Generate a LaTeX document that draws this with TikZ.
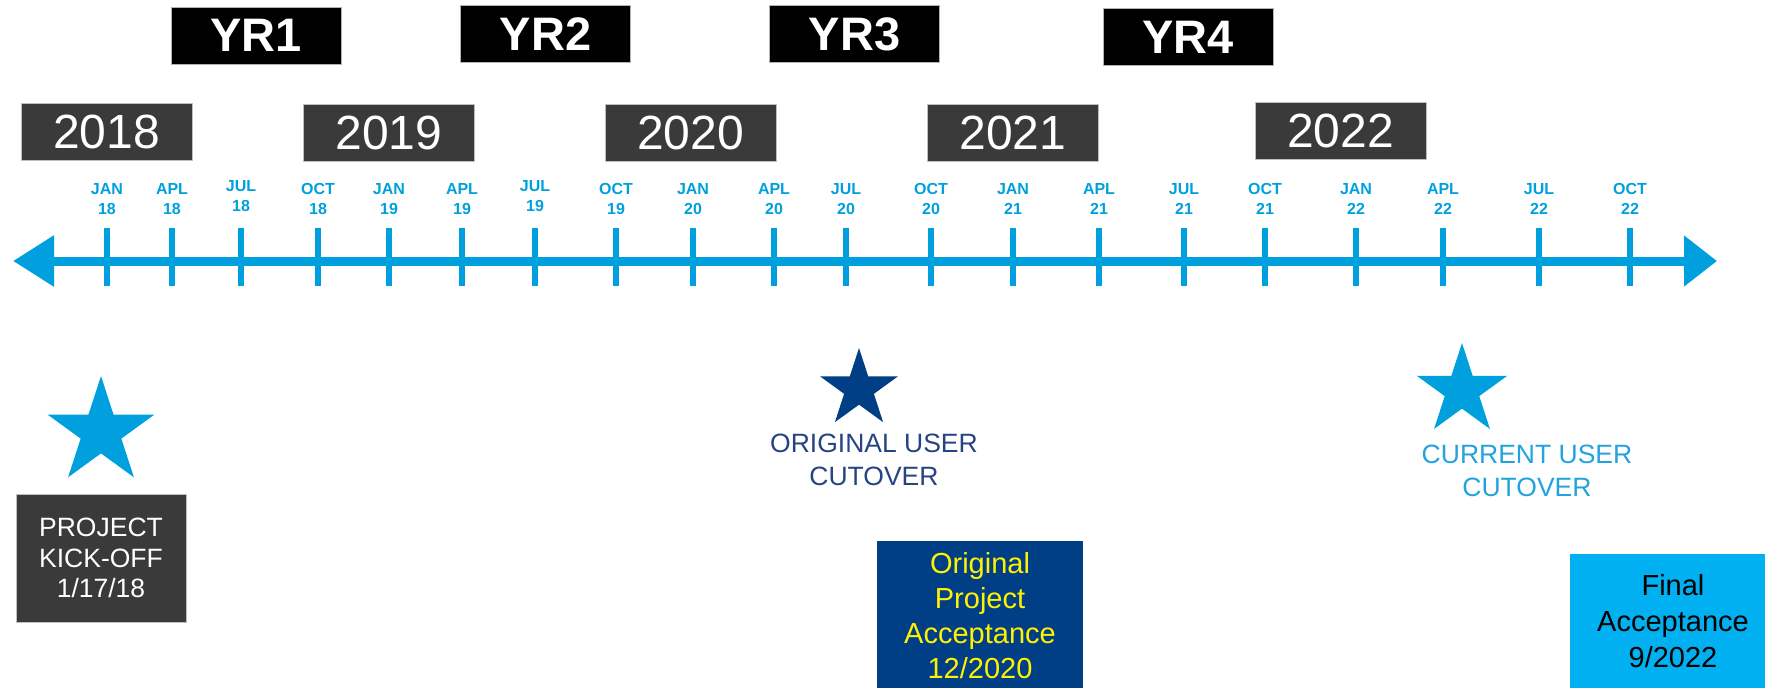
\documentclass[tikz,border=0pt]{standalone}
\usepackage{fontspec}
\setmainfont{Liberation Sans}
\usetikzlibrary{shapes.geometric,arrows.meta}

\definecolor{lineblue}{RGB}{0,160,222}
\definecolor{yeargray}{RGB}{58,58,58}
\definecolor{navy}{RGB}{0,62,134}
\definecolor{navytext}{RGB}{38,68,132}
\definecolor{curtext}{RGB}{35,163,222}
\definecolor{finalblue}{RGB}{0,176,240}

\tikzset{
  yearbox/.style={fill=yeargray, draw=gray!50, line width=1pt, text=white,
    minimum width=171pt, minimum height=57pt, inner sep=0pt,
    font=\fontsize{48}{48}\selectfont},
  yrbox/.style={fill=black, draw=gray!60, line width=1pt, text=white,
    minimum width=170pt, minimum height=57pt, inner sep=0pt,
    font=\bfseries\fontsize{47}{47}\selectfont},
  monthlbl/.style={text=lineblue, align=center, inner sep=0pt,
    font=\bfseries\fontsize{16}{20}\selectfont},
  tickline/.style={draw=lineblue, line width=5.5pt},
  axisline/.style={draw=lineblue, line width=9pt,
    {Triangle[length=41pt,width=49pt]}-{Triangle[length=33pt,width=49pt]}},
  milestar/.style={star, star points=5, star point ratio=2.618, inner sep=0pt},
  cutnote/.style={align=center, inner sep=0pt, font=\fontsize{26.5}{33}\selectfont}
}

\begin{document}
\begin{tikzpicture}[x=1pt,y=-1pt]
    \useasboundingbox (0,0) rectangle (1765,688);
    \clip (0,0) rectangle (1765,688);

    % project years
    \node[yrbox] (yr1) at (256,35.5) {YR1};
    \node[yrbox] (yr2) at (545.5,34) {YR2};
    \node[yrbox] (yr3) at (854.5,34) {YR3};
    \node[yrbox] (yr4) at (1188,37) {YR4};

    % calendar years
    \node[yearbox] (y2018) at (106.5,131.5) {2018};
    \node[yearbox] (y2019) at (389,133) {2019};
    \node[yearbox] (y2020) at (690.5,133) {2020};
    \node[yearbox] (y2021) at (1013,133) {2021};
    \node[yearbox] (y2022) at (1340.5,131) {2022};

    % time line
    \coordinate (axL) at (13,261);
    \coordinate (axR) at (1717,261);
    \draw[axisline] (axL) -- (axR);

    \foreach \x/\m/\yy/\ly [count=\i] in {107/JAN/18/199, 172/APL/18/199,
        241/JUL/18/196, 318/OCT/18/199, 389/JAN/19/199, 462/APL/19/199,
        535/JUL/19/196, 616/OCT/19/199, 693/JAN/20/199, 774/APL/20/199,
        846/JUL/20/199, 931/OCT/20/199, 1013/JAN/21/199, 1099/APL/21/199,
        1184/JUL/21/199, 1265/OCT/21/199, 1356/JAN/22/199, 1443/APL/22/199,
        1539/JUL/22/199, 1630/OCT/22/199}
    {
        \node[monthlbl] (m\i) at (\x,\ly) {\m\\\yy};
        \draw[tickline] (\x,228) -- (\x,286);
    }

    % milestones
    \node[milestar, fill=lineblue, minimum size=112pt] (kickstar) at (101,432) {};
    \node[fill=yeargray, draw=gray!50, line width=1pt, text=white, inner sep=0pt,
        minimum width=170pt, minimum height=128pt, align=center,
        font=\fontsize{26.5}{30.5}\selectfont] (kickoff) at (101,558) {PROJECT\\KICK-OFF\\1/17/18};

    \node[milestar, fill=navy, minimum size=82pt] (origstar) at (859,389) {};
    \node[cutnote, text=navytext] (origcut) at (874,459.5) {ORIGINAL USER\\CUTOVER};

    \node[milestar, fill=lineblue, minimum size=95pt] (curstar) at (1462,390.5) {};
    \node[cutnote, text=curtext] (curcut) at (1527,471) {CURRENT USER\\CUTOVER};

    \node[fill=navy, text=yellow, inner sep=0pt, minimum width=206pt, minimum height=150pt,
        align=center, font=\fontsize{29}{35}\selectfont] (origacc) at (980,616)
        {Original\\Project\\Acceptance\\12/2020};
    \node[fill=finalblue, text=black, inner sep=0pt, minimum width=206pt, minimum height=134pt,
        align=center, font=\fontsize{29}{36}\selectfont] (finalacc) at (1673,621)
        {Final\\Acceptance\\9/2022};
\end{tikzpicture}
\end{document}
